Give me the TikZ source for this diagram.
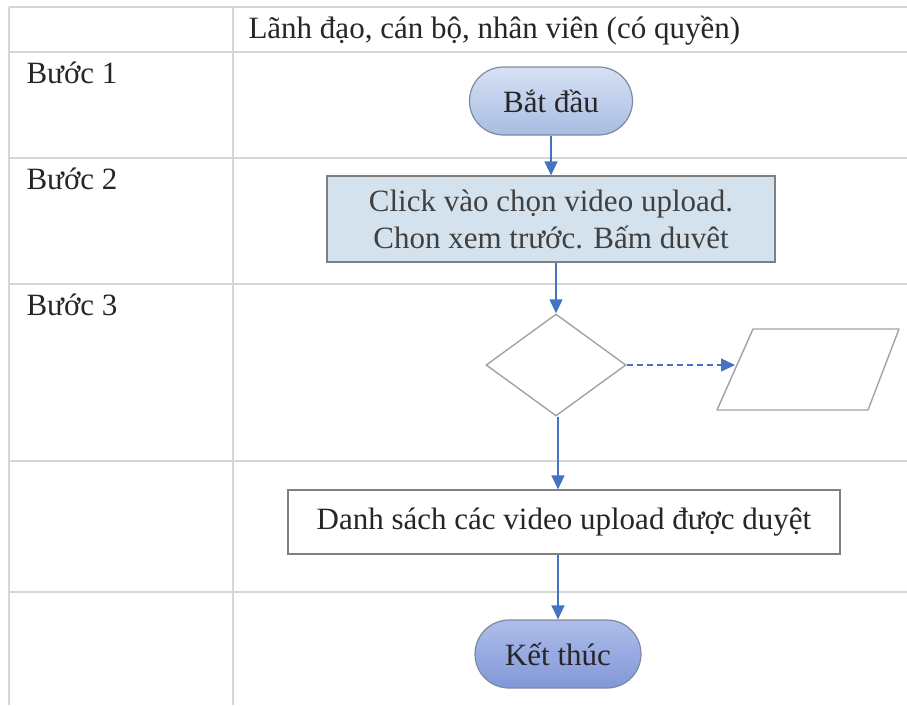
\documentclass[tikz,border=0pt]{standalone}
\usepackage{fontspec}
\setmainfont{Liberation Serif}
\usetikzlibrary{arrows.meta, shapes.geometric, calc}

\definecolor{gridgray}{HTML}{D6D6D6}
\definecolor{flowblue}{HTML}{4472C4}
\definecolor{shapegray}{HTML}{A3A3A3}
\definecolor{pillgray}{HTML}{7D8AA0}
\definecolor{starttop}{HTML}{D6E1F4}
\definecolor{startbot}{HTML}{A8BCE2}
\definecolor{endtop}{HTML}{AEBDEA}
\definecolor{endbot}{HTML}{8197D8}
\definecolor{procfill}{HTML}{D3E2ED}

\begin{document}
\begin{tikzpicture}[
        x=1pt, y=-1pt,
        every node/.style={font=\fontsize{31}{37}\selectfont, text=black!85},
        >={Triangle[length=14pt, width=13pt]},
        gridline/.style={gridgray, line width=1.8pt},
        flow/.style={->, flowblue, line width=1.4pt},
        pill/.style={rectangle, rounded corners=34pt, draw=pillgray, line width=1.2pt,
            minimum height=68pt, inner sep=0pt},
        startpill/.style={pill, minimum width=163pt, top color=starttop, bottom color=startbot},
        endpill/.style={pill, minimum width=166pt, top color=endtop, bottom color=endbot},
        procbox/.style={rectangle, draw=black!50, line width=1.2pt, align=center, inner sep=0pt},
        decide/.style={diamond, draw=shapegray, line width=1.4pt, fill=white, inner sep=0pt,
            minimum width=140pt, minimum height=102pt},
        iodata/.style={draw=shapegray, line width=1.4pt, fill=white, line join=round}
    ]
    \useasboundingbox (0,0) rectangle (907,705);

% ---------- table grid ----------
    \foreach \y in {7,52,158,284,461,592}
        \draw[gridline] (9,\y) -- (907,\y);
    \foreach \x in {9,233}
        \draw[gridline] (\x,7) -- (\x,705);

% ---------- table labels ----------
    \node[anchor=base west] (lane) at (245,38) {Lãnh đạo, cán bộ, nhân viên (có quyền)};
    \node[anchor=base west] (b1) at (23,83) {Bước 1};
    \node[anchor=base west] (b2) at (23,189) {Bước 2};
    \node[anchor=base west] (b3) at (23,315) {Bước 3};

% ---------- flow ----------
    \node[startpill] (start) at (551,101) {Bắt đầu};
    \node[procbox, fill=procfill, minimum width=448pt, minimum height=86pt,
        text=black!75] (click) at (551,219) {Click vào chọn video upload.\\Chon xem trước. Bấm duvêt};
    \node[decide] (dec) at (556,365) {};
    \node[procbox, fill=white, minimum width=552pt, minimum height=64pt] (list) at (564,522)
        {Danh sách các video upload được duyệt};
    \node[endpill] (stop) at (558,654) {Kết thúc};

    % data (parallelogram), arrow lands on its left side
    \draw[iodata] (753,329) -- (899,329) -- (868,410) -- (717,410) -- cycle;
    \coordinate (dataL) at (735,365);

    \draw[flow] (start.south) -- (start.south |- click.north);
    \draw[flow] (dec.north |- click.south) -- (dec.north);
    \draw[flow, dash pattern=on 6pt off 4pt] (dec.east) -- (dataL);
    \draw[flow] ($(dec.south)+(2,0)$) -- ($(dec.south |- list.north)+(2,0)$);
    \draw[flow] (stop.north |- list.south) -- (stop.north);

\end{tikzpicture}
\end{document}
